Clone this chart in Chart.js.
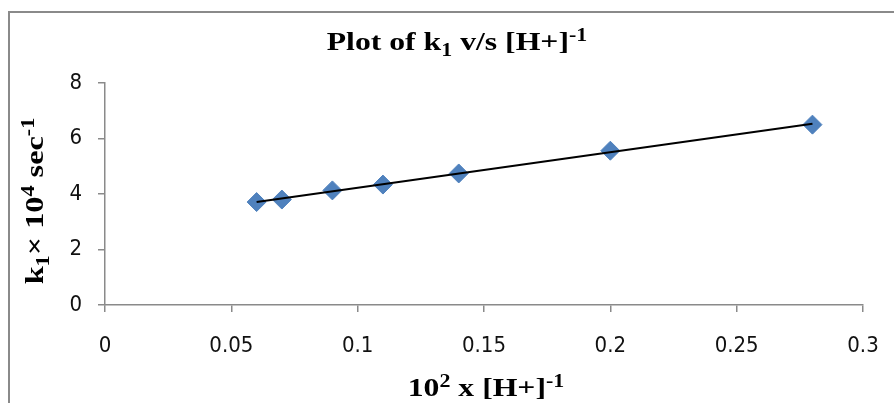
<!DOCTYPE html>
<html>
<head>
<meta charset="utf-8">
<script src="https://cdn.jsdelivr.net/npm/chart.js@4.4.0/dist/chart.umd.min.js"></script>
<style>
  html, body { margin: 0; padding: 0; background: #fff; }
  #wrap { width: 894px; height: 403px; position: relative; }
</style>
</head>
<body>
<div id="wrap"><canvas id="plot" width="894" height="403"></canvas></div>
<script>
// dati
const xValues = [0.06, 0.07, 0.09, 0.11, 0.14, 0.2, 0.28];
const k1Values = [3.71, 3.80, 4.13, 4.34, 4.74, 5.56, 6.50];
const xTicks = [0, 0.05, 0.1, 0.15, 0.2, 0.25, 0.3];
const yTicks = [0, 2, 4, 6, 8];

// testi con pedici / apici
const titleParts = [['Plot of k', ''], ['1', 'sub'], [' v/s [H+]', ''], ['-1', 'sup']];
const xLabelParts = [['10', ''], ['2', 'sup'], [' x [H+]', ''], ['-1', 'sup']];
const yLabelParts = [['k', ''], ['1', 'sub'], ['\u00d7 10', ''], ['4', 'sup'], [' sec', ''], ['-1', 'sup']];

// retta di tendenza (minimi quadrati)
const n = xValues.length;
const mx = xValues.reduce((a, b) => a + b, 0) / n;
const my = k1Values.reduce((a, b) => a + b, 0) / n;
let sxy = 0, sxx = 0;
xValues.forEach((x, i) => { sxy += (x - mx) * (k1Values[i] - my); sxx += (x - mx) * (x - mx); });
const slope = sxy / sxx;
const icpt = my - slope * mx;
const xMin = Math.min(...xValues), xMax = Math.max(...xValues);
const trend = [{ x: xMin, y: icpt + slope * xMin }, { x: xMax, y: icpt + slope * xMax }];

const serif = '"Liberation Serif", "Times New Roman", serif';

function drawRich(ctx, parts, cx, baseY, size, rotated, stretch) {
    const fontFor = k => 'bold ' + (k ? Math.round(size * 0.68) : size) + 'px ' + serif;
    let total = 0;
    parts.forEach(p => { ctx.font = fontFor(p[1]); total += ctx.measureText(p[0]).width; });
    ctx.save();
    if (rotated) {
        ctx.translate(baseY, cx);
        ctx.rotate(-Math.PI / 2);
    } else {
        ctx.translate(cx, baseY);
    }
    ctx.scale(stretch, 1);
    ctx.translate(-total / 2, 0);
    ctx.fillStyle = '#000';
    ctx.textBaseline = 'alphabetic';
    let x = 0;
    parts.forEach(p => {
        ctx.font = fontFor(p[1]);
        const dy = p[1] === 'sub' ? size * 0.24 : (p[1] === 'sup' ? -size * 0.36 : 0);
        ctx.fillText(p[0], x, dy);
        x += ctx.measureText(p[0]).width;
    });
    ctx.restore();
}

const decorPlugin = {
    id: 'decor',
    beforeDraw(chart) {
        const ctx = chart.ctx;
        ctx.save();
        ctx.strokeStyle = '#8a8a8a';
        ctx.lineWidth = 2;
        ctx.strokeRect(9, 12, 1000, 600);
        ctx.restore();
    },
    afterDraw(chart) {
        const ctx = chart.ctx;
        drawRich(ctx, titleParts, 457, 50, 26, false, 1.22);
        drawRich(ctx, xLabelParts, 486, 396, 26, false, 1.22);
        drawRich(ctx, yLabelParts, 201, 43, 26, true, 1.24);
    }
};

const tickFont = { family: '"Liberation Sans Narrow", "DejaVu Sans Condensed", "Arial Narrow", sans-serif', size: 22 };

new Chart(document.getElementById('plot'), {
    type: 'scatter',
    data: {
        datasets: [
            {
                label: 'Trend',
                type: 'line',
                data: trend,
                borderColor: '#000',
                borderWidth: 2,
                pointRadius: 0,
                fill: false
            },
            {
                label: 'k1',
                data: xValues.map((x, i) => ({ x: x, y: k1Values[i] })),
                pointStyle: 'rectRot',
                pointRadius: 9.5,
                pointBackgroundColor: '#4f81bd',
                pointBorderColor: '#4f81bd',
                pointBorderWidth: 1
            }
        ]
    },
    options: {
        responsive: false,
        animation: false,
        layout: { padding: { left: 0, top: 83, right: 31, bottom: 0 } },
        plugins: { legend: { display: false }, tooltip: { enabled: false } },
        scales: {
            x: {
                type: 'linear',
                min: xTicks[0],
                max: xTicks[xTicks.length - 1],
                afterFit: s => { s.height = 98; s.paddingLeft = 0; s.paddingRight = 0; },
                afterBuildTicks: s => { s.ticks = xTicks.map(v => ({ value: v })); },
                grid: { drawOnChartArea: false, drawTicks: true, tickLength: 7, color: '#8a8a8a', lineWidth: 1.5 },
                border: { color: '#8a8a8a', width: 1.5 },
                ticks: { color: '#111', font: tickFont, padding: 21, maxRotation: 0, callback: v => String(v) }
            },
            y: {
                min: yTicks[0],
                max: yTicks[yTicks.length - 1],
                afterFit: s => { s.width = 105; s.paddingTop = 0; s.paddingBottom = 0; },
                afterBuildTicks: s => { s.ticks = yTicks.map(v => ({ value: v })); },
                grid: { drawOnChartArea: false, drawTicks: true, tickLength: 7, color: '#8a8a8a', lineWidth: 1.5 },
                border: { color: '#8a8a8a', width: 1.5 },
                ticks: { color: '#111', font: tickFont, padding: 16, callback: v => String(v) }
            }
        }
    },
    plugins: [decorPlugin]
});
</script>
</body>
</html>
